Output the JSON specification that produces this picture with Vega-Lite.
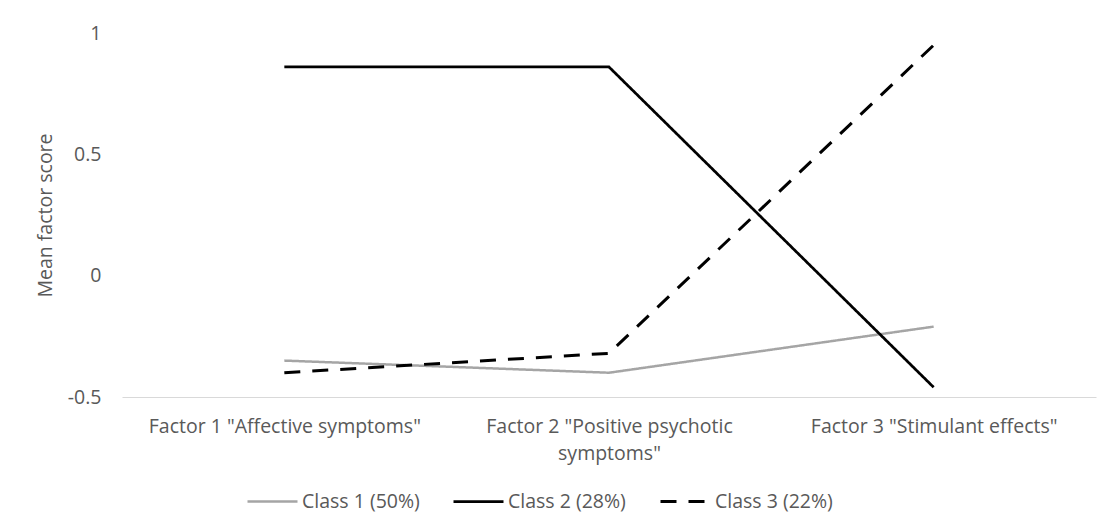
{
  "$schema": "https://vega.github.io/schema/vega-lite/v6.json",
  "width": 974,
  "height": 364,
  "autosize": {"type": "none"},
  "padding": {"left": 122, "top": 33, "right": 8, "bottom": 124},
  "background": "white",
  "config": {
    "view": {"stroke": null},
    "font": "Open Sans"
  },
  "data": {
    "values": [
      {"factor": "Factor 1 \"Affective symptoms\"", "cls": "Class 1 (50%)", "score": -0.35},
      {"factor": "Factor 2 \"Positive psychotic symptoms\"", "cls": "Class 1 (50%)", "score": -0.40},
      {"factor": "Factor 3 \"Stimulant effects\"", "cls": "Class 1 (50%)", "score": -0.21},
      {"factor": "Factor 1 \"Affective symptoms\"", "cls": "Class 2 (28%)", "score": 0.86},
      {"factor": "Factor 2 \"Positive psychotic symptoms\"", "cls": "Class 2 (28%)", "score": 0.86},
      {"factor": "Factor 3 \"Stimulant effects\"", "cls": "Class 2 (28%)", "score": -0.46},
      {"factor": "Factor 1 \"Affective symptoms\"", "cls": "Class 3 (22%)", "score": -0.40},
      {"factor": "Factor 2 \"Positive psychotic symptoms\"", "cls": "Class 3 (22%)", "score": -0.32},
      {"factor": "Factor 3 \"Stimulant effects\"", "cls": "Class 3 (22%)", "score": 0.95}
    ]
  },
  "mark": {"type": "line", "strokeCap": "butt", "strokeJoin": "miter"},
  "encoding": {
    "x": {
      "field": "factor",
      "type": "nominal",
      "sort": null,
      "scale": {"type": "point", "padding": 0.5},
      "axis": {
        "title": null,
        "labelAngle": 0,
        "domain": true,
        "domainColor": "#D9D9D9",
        "domainWidth": 1,
        "ticks": false,
        "grid": false,
        "labelPadding": 20,
        "labelFontSize": 19.5,
        "labelColor": "#595959",
        "labelLineHeight": 27,
        "labelLimit": 400,
        "labelExpr": "datum.label == 'Factor 2 \"Positive psychotic symptoms\"' ? ['Factor 2 \"Positive psychotic', 'symptoms\"'] : datum.label"
      }
    },
    "y": {
      "field": "score",
      "type": "quantitative",
      "scale": {"domain": [-0.5, 1], "nice": false, "zero": false},
      "axis": {
        "title": "Mean factor score",
        "values": [-0.5, 0, 0.5, 1],
        "labelExpr": "'' + datum.value",
        "domain": false,
        "ticks": false,
        "grid": false,
        "labelPadding": 21,
        "labelFontSize": 19.5,
        "labelColor": "#595959",
        "titleFontSize": 19.5,
        "titleFontWeight": "normal",
        "titleColor": "#595959",
        "titlePadding": 12
      }
    },
    "color": {
      "field": "cls",
      "type": "nominal",
      "scale": {"range": ["#A5A5A5", "#000000", "#000000"]},
      "legend": {
        "title": null,
        "orient": "none",
        "legendX": 124,
        "legendY": 442,
        "direction": "horizontal",
        "symbolType": "stroke",
        "symbolSize": 2500,
        "labelFontSize": 19.5,
        "labelColor": "#595959",
        "labelOffset": 3,
        "columnPadding": 28
      }
    },
    "strokeDash": {
      "field": "cls",
      "type": "nominal",
      "scale": {"range": [[1, 0], [1, 0], [16, 12]]}
    },
    "strokeWidth": {
      "field": "cls",
      "type": "nominal",
      "scale": {"range": [2.5, 3, 4]}
    }
  }
}
